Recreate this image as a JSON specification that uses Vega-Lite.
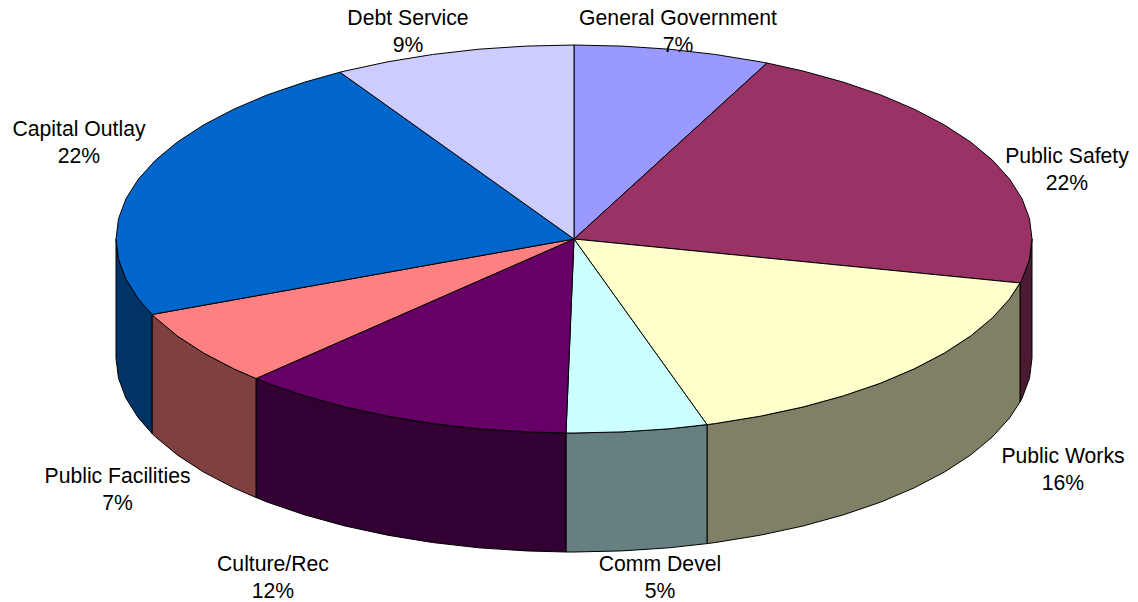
{"$schema":"https://vega.github.io/schema/vega-lite/v6.json","width":1138,"height":602,"padding":0,"autosize":{"type":"fit","contains":"padding"},"background":"white","view":{"stroke":null},
"datasets":{
"sides":[
{"s":"Public Safety","i":0,"x":1032,"y":239},{"s":"Public Safety","i":1,"x":1029.5,"y":259.3},{"s":"Public Safety","i":2,"x":1022,"y":279.3},{"s":"Public Safety","i":3,"x":1020,"y":283},{"s":"Public Safety","i":4,"x":1020,"y":402},{"s":"Public Safety","i":5,"x":1022,"y":398.3},{"s":"Public Safety","i":6,"x":1029.5,"y":378.3},{"s":"Public Safety","i":7,"x":1032,"y":358},{"s":"Public Safety","i":8,"x":1032,"y":239},
{"s":"Public Works","i":0,"x":1020,"y":283},{"s":"Public Works","i":1,"x":1009.6,"y":298.9},{"s":"Public Works","i":2,"x":992.4,"y":317.9},{"s":"Public Works","i":3,"x":970.6,"y":336},{"s":"Public Works","i":4,"x":944.5,"y":353},{"s":"Public Works","i":5,"x":914.3,"y":368.8},{"s":"Public Works","i":6,"x":880.5,"y":383.2},{"s":"Public Works","i":7,"x":843.2,"y":395.9},{"s":"Public Works","i":8,"x":803,"y":407},{"s":"Public Works","i":9,"x":760.3,"y":416.2},{"s":"Public Works","i":10,"x":715.5,"y":423.5},{"s":"Public Works","i":11,"x":707,"y":424.6},{"s":"Public Works","i":12,"x":707,"y":543.6},{"s":"Public Works","i":13,"x":715.5,"y":542.5},{"s":"Public Works","i":14,"x":760.3,"y":535.2},{"s":"Public Works","i":15,"x":803,"y":526},{"s":"Public Works","i":16,"x":843.2,"y":514.9},{"s":"Public Works","i":17,"x":880.5,"y":502.2},{"s":"Public Works","i":18,"x":914.3,"y":487.8},{"s":"Public Works","i":19,"x":944.5,"y":472},{"s":"Public Works","i":20,"x":970.6,"y":455},{"s":"Public Works","i":21,"x":992.4,"y":436.9},{"s":"Public Works","i":22,"x":1009.6,"y":417.9},{"s":"Public Works","i":23,"x":1020,"y":402},{"s":"Public Works","i":24,"x":1020,"y":283},
{"s":"Comm Devel","i":0,"x":707,"y":424.6},{"s":"Comm Devel","i":1,"x":669.2,"y":428.8},{"s":"Comm Devel","i":2,"x":621.9,"y":431.9},{"s":"Comm Devel","i":3,"x":574,"y":433},{"s":"Comm Devel","i":4,"x":566,"y":433},{"s":"Comm Devel","i":5,"x":566,"y":552},{"s":"Comm Devel","i":6,"x":574,"y":552},{"s":"Comm Devel","i":7,"x":621.9,"y":550.9},{"s":"Comm Devel","i":8,"x":669.2,"y":547.8},{"s":"Comm Devel","i":9,"x":707,"y":543.6},{"s":"Comm Devel","i":10,"x":707,"y":424.6},
{"s":"Culture/Rec","i":0,"x":566,"y":433},{"s":"Culture/Rec","i":1,"x":526.1,"y":431.9},{"s":"Culture/Rec","i":2,"x":478.8,"y":428.8},{"s":"Culture/Rec","i":3,"x":432.5,"y":423.5},{"s":"Culture/Rec","i":4,"x":387.7,"y":416.2},{"s":"Culture/Rec","i":5,"x":345,"y":407},{"s":"Culture/Rec","i":6,"x":304.8,"y":395.9},{"s":"Culture/Rec","i":7,"x":267.5,"y":383.2},{"s":"Culture/Rec","i":8,"x":256,"y":378.5},{"s":"Culture/Rec","i":9,"x":256,"y":497.5},{"s":"Culture/Rec","i":10,"x":267.5,"y":502.2},{"s":"Culture/Rec","i":11,"x":304.8,"y":514.9},{"s":"Culture/Rec","i":12,"x":345,"y":526},{"s":"Culture/Rec","i":13,"x":387.7,"y":535.2},{"s":"Culture/Rec","i":14,"x":432.5,"y":542.5},{"s":"Culture/Rec","i":15,"x":478.8,"y":547.8},{"s":"Culture/Rec","i":16,"x":526.1,"y":550.9},{"s":"Culture/Rec","i":17,"x":566,"y":552},{"s":"Culture/Rec","i":18,"x":566,"y":433},
{"s":"Public Facilities","i":0,"x":256,"y":378.5},{"s":"Public Facilities","i":1,"x":233.7,"y":368.8},{"s":"Public Facilities","i":2,"x":203.5,"y":353},{"s":"Public Facilities","i":3,"x":177.4,"y":336},{"s":"Public Facilities","i":4,"x":155.6,"y":317.9},{"s":"Public Facilities","i":5,"x":152,"y":314.5},{"s":"Public Facilities","i":6,"x":152,"y":433.5},{"s":"Public Facilities","i":7,"x":155.6,"y":436.9},{"s":"Public Facilities","i":8,"x":177.4,"y":455},{"s":"Public Facilities","i":9,"x":203.5,"y":472},{"s":"Public Facilities","i":10,"x":233.7,"y":487.8},{"s":"Public Facilities","i":11,"x":256,"y":497.5},{"s":"Public Facilities","i":12,"x":256,"y":378.5},
{"s":"Capital Outlay","i":0,"x":152,"y":314.5},{"s":"Capital Outlay","i":1,"x":138.4,"y":298.9},{"s":"Capital Outlay","i":2,"x":126,"y":279.3},{"s":"Capital Outlay","i":3,"x":118.5,"y":259.3},{"s":"Capital Outlay","i":4,"x":116,"y":239},{"s":"Capital Outlay","i":5,"x":116,"y":358},{"s":"Capital Outlay","i":6,"x":118.5,"y":378.3},{"s":"Capital Outlay","i":7,"x":126,"y":398.3},{"s":"Capital Outlay","i":8,"x":138.4,"y":417.9},{"s":"Capital Outlay","i":9,"x":152,"y":433.5},{"s":"Capital Outlay","i":10,"x":152,"y":314.5}
],
"tops":[
{"s":"General Government","i":0,"x":574,"y":239},{"s":"General Government","i":1,"x":574,"y":45},{"s":"General Government","i":2,"x":621.9,"y":46.1},{"s":"General Government","i":3,"x":669.2,"y":49.2},{"s":"General Government","i":4,"x":715.5,"y":54.5},{"s":"General Government","i":5,"x":760.3,"y":61.8},{"s":"General Government","i":6,"x":767,"y":63},{"s":"General Government","i":7,"x":574,"y":239},
{"s":"Public Safety","i":0,"x":574,"y":239},{"s":"Public Safety","i":1,"x":767,"y":63},{"s":"Public Safety","i":2,"x":803,"y":71},{"s":"Public Safety","i":3,"x":843.2,"y":82.1},{"s":"Public Safety","i":4,"x":880.5,"y":94.8},{"s":"Public Safety","i":5,"x":914.3,"y":109.2},{"s":"Public Safety","i":6,"x":944.5,"y":125},{"s":"Public Safety","i":7,"x":970.6,"y":142},{"s":"Public Safety","i":8,"x":992.4,"y":160.1},{"s":"Public Safety","i":9,"x":1009.6,"y":179.1},{"s":"Public Safety","i":10,"x":1022,"y":198.7},{"s":"Public Safety","i":11,"x":1029.5,"y":218.7},{"s":"Public Safety","i":12,"x":1032,"y":239},{"s":"Public Safety","i":13,"x":1029.5,"y":259.3},{"s":"Public Safety","i":14,"x":1022,"y":279.3},{"s":"Public Safety","i":15,"x":1020,"y":283},{"s":"Public Safety","i":16,"x":574,"y":239},
{"s":"Public Works","i":0,"x":574,"y":239},{"s":"Public Works","i":1,"x":1020,"y":283},{"s":"Public Works","i":2,"x":1009.6,"y":298.9},{"s":"Public Works","i":3,"x":992.4,"y":317.9},{"s":"Public Works","i":4,"x":970.6,"y":336},{"s":"Public Works","i":5,"x":944.5,"y":353},{"s":"Public Works","i":6,"x":914.3,"y":368.8},{"s":"Public Works","i":7,"x":880.5,"y":383.2},{"s":"Public Works","i":8,"x":843.2,"y":395.9},{"s":"Public Works","i":9,"x":803,"y":407},{"s":"Public Works","i":10,"x":760.3,"y":416.2},{"s":"Public Works","i":11,"x":715.5,"y":423.5},{"s":"Public Works","i":12,"x":707,"y":424.6},{"s":"Public Works","i":13,"x":574,"y":239},
{"s":"Comm Devel","i":0,"x":574,"y":239},{"s":"Comm Devel","i":1,"x":707,"y":424.6},{"s":"Comm Devel","i":2,"x":669.2,"y":428.8},{"s":"Comm Devel","i":3,"x":621.9,"y":431.9},{"s":"Comm Devel","i":4,"x":574,"y":433},{"s":"Comm Devel","i":5,"x":566,"y":433},{"s":"Comm Devel","i":6,"x":574,"y":239},
{"s":"Culture/Rec","i":0,"x":574,"y":239},{"s":"Culture/Rec","i":1,"x":566,"y":433},{"s":"Culture/Rec","i":2,"x":526.1,"y":431.9},{"s":"Culture/Rec","i":3,"x":478.8,"y":428.8},{"s":"Culture/Rec","i":4,"x":432.5,"y":423.5},{"s":"Culture/Rec","i":5,"x":387.7,"y":416.2},{"s":"Culture/Rec","i":6,"x":345,"y":407},{"s":"Culture/Rec","i":7,"x":304.8,"y":395.9},{"s":"Culture/Rec","i":8,"x":267.5,"y":383.2},{"s":"Culture/Rec","i":9,"x":256,"y":378.5},{"s":"Culture/Rec","i":10,"x":574,"y":239},
{"s":"Public Facilities","i":0,"x":574,"y":239},{"s":"Public Facilities","i":1,"x":256,"y":378.5},{"s":"Public Facilities","i":2,"x":233.7,"y":368.8},{"s":"Public Facilities","i":3,"x":203.5,"y":353},{"s":"Public Facilities","i":4,"x":177.4,"y":336},{"s":"Public Facilities","i":5,"x":155.6,"y":317.9},{"s":"Public Facilities","i":6,"x":152,"y":314.5},{"s":"Public Facilities","i":7,"x":574,"y":239},
{"s":"Capital Outlay","i":0,"x":574,"y":239},{"s":"Capital Outlay","i":1,"x":152,"y":314.5},{"s":"Capital Outlay","i":2,"x":138.4,"y":298.9},{"s":"Capital Outlay","i":3,"x":126,"y":279.3},{"s":"Capital Outlay","i":4,"x":118.5,"y":259.3},{"s":"Capital Outlay","i":5,"x":116,"y":239},{"s":"Capital Outlay","i":6,"x":118.5,"y":218.7},{"s":"Capital Outlay","i":7,"x":126,"y":198.7},{"s":"Capital Outlay","i":8,"x":138.4,"y":179.1},{"s":"Capital Outlay","i":9,"x":155.6,"y":160.1},{"s":"Capital Outlay","i":10,"x":177.4,"y":142},{"s":"Capital Outlay","i":11,"x":203.5,"y":125},{"s":"Capital Outlay","i":12,"x":233.7,"y":109.2},{"s":"Capital Outlay","i":13,"x":267.5,"y":94.8},{"s":"Capital Outlay","i":14,"x":304.8,"y":82.1},{"s":"Capital Outlay","i":15,"x":340,"y":72.2},{"s":"Capital Outlay","i":16,"x":574,"y":239},
{"s":"Debt Service","i":0,"x":574,"y":239},{"s":"Debt Service","i":1,"x":340,"y":72.2},{"s":"Debt Service","i":2,"x":345,"y":71},{"s":"Debt Service","i":3,"x":387.7,"y":61.8},{"s":"Debt Service","i":4,"x":432.5,"y":54.5},{"s":"Debt Service","i":5,"x":478.8,"y":49.2},{"s":"Debt Service","i":6,"x":526.1,"y":46.1},{"s":"Debt Service","i":7,"x":574,"y":45},{"s":"Debt Service","i":8,"x":574,"y":239}
],
"labels":[
{"name":"General Government","pct":"7%","x":678,"y":18.5},
{"name":"Public Safety","pct":"22%","x":1067,"y":156.5},
{"name":"Public Works","pct":"16%","x":1063,"y":456.5},
{"name":"Comm Devel","pct":"5%","x":660,"y":564.5},
{"name":"Culture/Rec","pct":"12%","x":273,"y":564.5},
{"name":"Public Facilities","pct":"7%","x":117.5,"y":476.5},
{"name":"Capital Outlay","pct":"22%","x":79,"y":129.5},
{"name":"Debt Service","pct":"9%","x":408,"y":18.5}
]},
"layer":[
{"data":{"name":"sides"},"mark":{"type":"line","stroke":"#000000","strokeWidth":1,"strokeJoin":"round","clip":false},
"encoding":{"x":{"field":"x","type":"quantitative","scale":{"domain":[0,1138],"nice":false,"zero":false},"axis":null},"y":{"field":"y","type":"quantitative","scale":{"domain":[602,0],"nice":false,"zero":false},"axis":null},"order":{"field":"i","type":"quantitative"},"detail":{"field":"s"},
"fill":{"field":"s","type":"nominal","legend":null,"scale":{"domain":["Public Safety","Public Works","Comm Devel","Culture/Rec","Public Facilities","Capital Outlay"],"range":["#4D1A33","#808066","#668080","#330033","#804040","#003366"]}}}},
{"data":{"name":"tops"},"mark":{"type":"line","stroke":"#000000","strokeWidth":1,"strokeJoin":"round","clip":false},
"encoding":{"x":{"field":"x","type":"quantitative"},"y":{"field":"y","type":"quantitative"},"order":{"field":"i","type":"quantitative"},"detail":{"field":"s"},
"fill":{"field":"s","type":"nominal","legend":null,"scale":{"domain":["General Government","Public Safety","Public Works","Comm Devel","Culture/Rec","Public Facilities","Capital Outlay","Debt Service"],"range":["#9999FF","#993366","#FFFFCC","#CCFFFF","#660066","#FF8080","#0066CC","#CCCCFF"]}}}},
{"data":{"name":"labels"},"transform":[{"calculate":"[datum.name, datum.pct]","as":"txt"}],"mark":{"type":"text","font":"Liberation Sans","fontSize":21.2,"align":"center","baseline":"middle","lineHeight":27.3,"color":"#000000"},
"encoding":{"x":{"field":"x","type":"quantitative"},"y":{"field":"y","type":"quantitative"},"text":{"field":"txt"}}}
],
"resolve":{"scale":{"fill":"independent"}}}
